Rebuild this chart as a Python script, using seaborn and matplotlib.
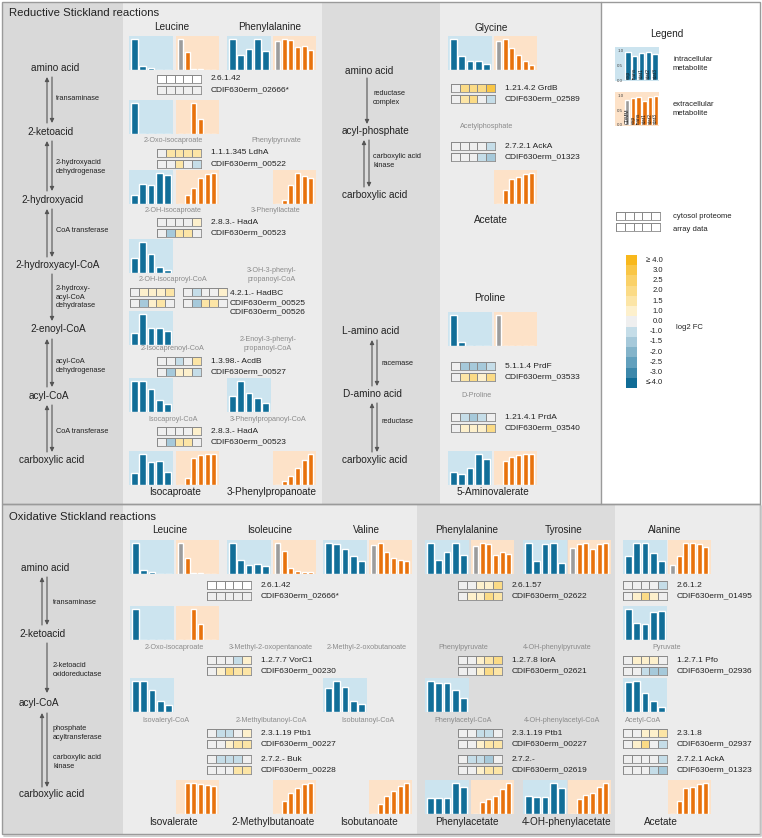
import numpy as np
import matplotlib
matplotlib.use("Agg")
import matplotlib.pyplot as plt
import seaborn as sns
from matplotlib.colors import ListedColormap, BoundaryNorm
from matplotlib.patches import Rectangle

W, H = 762, 838
nan = np.nan

# growth phases shown in every mini bar chart
phases = ["exp", "trans", "stat1", "stat2", "stat3"]
ext_phases = ["CDMM"] + phases

# log2 FC colour key (top to bottom)
fc_levels = [4.0, 3.0, 2.5, 2.0, 1.5, 1.0, 0.0, -1.0, -1.5, -2.0, -2.5, -3.0, -4.0]
fc_labels = ["\u2265 4.0", "3.0", "2.5", "2.0", "1.5", "1.0", "0.0",
             "-1.0", "-1.5", "-2.0", "-2.5", "-3.0", "\u2264-4.0"]
fc_colors = ["#f8b81c", "#f9c646", "#fad168", "#fbdb86", "#fce5a6", "#fdf0cc", "#efefef",
             "#c5dde8", "#a6c9da", "#84b4ca", "#62a0bd", "#3d88ab", "#106c96"]

# ---- reductive Stickland: relative metabolite levels ----
red_leu_in = [1.0, 0.14, 0.06, 0, 0]
red_leu_ex = [1.0, 0.58, 0.02, 0.02, 0, 0]
red_phe_in = [1.0, 0.47, 0.68, 1.0, 0.6]
red_phe_ex = [0.92, 1.0, 0.95, 0.72, 0.77, 0.65]
red_oxoisocaproate_in = [1.0, 0, 0, 0, 0]
red_oxoisocaproate_ex = [0, 0, 1.0, 0.48, 0, 0]
ohisocaproate_in = [0.3, 0.65, 0.6, 1.0, 0.92]
ohisocaproate_ex = [0, 0.28, 0.52, 0.82, 0.95, 1.0]
phenyllactate_ex = [0, 0.12, 0.6, 1.0, 0.88, 0.82]
ohisocaproyl_coa_in = [0.48, 1.0, 0.6, 0.2, 0.09]
isocaprenoyl_coa_in = [0.38, 1.0, 0.55, 0.55, 0.44]
isocaproyl_coa_in = [0.98, 1.0, 0.72, 0.38, 0.25]
phenylpropanoyl_coa_in = [0.52, 1.0, 0.6, 0.43, 0.3]
isocaproate_in = [0.38, 1.0, 0.74, 0.76, 0.42]
isocaproate_ex = [0, 0.22, 0.85, 0.95, 0.98, 1.0]
phenylpropanoate_ex = [0, 0.12, 0.28, 0.55, 0.8, 1.0]
gly_in = [1.0, 0.46, 0.3, 0.3, 0.18]
gly_ex = [0.92, 1.0, 0.7, 0.47, 0.3, 0.17]
red_acetate_ex = [0, 0.43, 0.8, 0.85, 0.95, 1.0]
pro_in = [1.0, 0.13, 0, 0, 0]
pro_ex = [1.0, 0, 0, 0, 0, 0]
aminovalerate_in = [0.4, 0.36, 0.54, 1.0, 0.84]
aminovalerate_ex = [0, 0.75, 0.9, 0.94, 0.97, 1.0]

# ---- oxidative Stickland ----
ox_leu_in = [1.0, 0.14, 0.06, 0, 0]
ox_leu_ex = [1.0, 0.5, 0.02, 0.02, 0, 0]
ile_in = [1.0, 0.46, 0.3, 0.33, 0.26]
ile_ex = [1.0, 0.74, 0.2, 0.1, 0.05, 0.05]
val_in = [1.0, 0.95, 0.8, 0.56, 0.42]
val_ex = [0.92, 1.0, 0.7, 0.52, 0.45, 0.4]
ox_oxoisocaproate_in = [1.0, 0, 0, 0, 0]
ox_oxoisocaproate_ex = [0, 0, 1.0, 0.5, 0, 0]
isovaleryl_coa_in = [1.0, 0.97, 0.7, 0.35, 0.22]
isobutanoyl_coa_in = [0.75, 1.0, 0.8, 0.35, 0.24]
isovalerate_ex = [0, 1.0, 0.97, 0.94, 0.92, 0.9]
methylbutanoate_ex = [0, 0.42, 0.67, 0.82, 0.95, 1.0]
isobutanoate_ex = [0, 0.33, 0.57, 0.73, 0.88, 1.0]
ox_phe_in = [1.0, 0.46, 0.69, 1.0, 0.6]
ox_phe_ex = [0.9, 1.0, 0.95, 0.6, 0.7, 0.64]
tyr_in = [1.0, 0.42, 0.96, 1.0, 0.34]
tyr_ex = [0.84, 0.94, 0.97, 0.8, 0.94, 1.0]
ala_in = [0.58, 1.0, 1.0, 0.66, 0.42]
ala_ex = [0.3, 0.56, 1.0, 1.0, 0.95, 0.86]
pyruvate_in = [1.0, 0.54, 0.5, 0.9, 0.93]
phenylacetyl_coa_in = [1.0, 0.93, 0.92, 0.7, 0.46]
acetyl_coa_in = [0.94, 1.0, 0.6, 0.34, 0.17]
phenylacetate_in = [0.52, 0.5, 0.5, 1.0, 0.86]
phenylacetate_ex = [0, 0.37, 0.47, 0.58, 0.8, 1.0]
ohphenylacetate_in = [0.58, 0.55, 0.55, 1.0, 0.84]
ohphenylacetate_ex = [0, 0.47, 0.6, 0.66, 0.86, 1.0]
ox_acetate_ex = [0, 0.42, 0.82, 0.87, 0.95, 1.0]

legend_in = [0.95, 0.8, 0.92, 0.95, 0.88]
legend_ex = [0.85, 0.92, 0.95, 0.8, 0.95, 0.98]

# ---- enzyme log2 FC (row 1 = cytosol proteome, row 2 = array data) ----
fc_02666 = [[nan] * 5, [0, 0, 0, 0, 0]]
fc_ldha = [[0, 1.5, 1.5, 1.5, 1.5], [0, 0, 1.5, 0, -1.0]]
fc_hada = [[0, 0, 0, 0, 1.0], [0, -1.5, 1.5, 1.5, 0]]
fc_hadbc_a = [[0, 1.0, 1.0, 1.0, 1.5], [0, -1.5, 1.0, 1.5, 0]]
fc_hadbc_b = [[0, -1.0, 0, 0, 1.0], [0, -1.5, 1.5, 1.5, 0]]
fc_acdb = [[0, 0, -1.0, 0, 1.5], [0, -1.5, 1.0, 1.0, -1.0]]
fc_grdb = [[0, 2.0, 2.0, 2.0, 3.0], [0, 1.5, 2.0, 0, -1.0]]
fc_acka = [[0, 0, 0, 0, -1.0], [0, 0, 0, -1.0, -1.5]]
fc_prdf = [[0, -1.5, -1.5, -1.5, -1.0], [0, 1.5, 2.0, 1.0, 2.0]]
fc_prda = [[0, -1.0, -1.5, -1.0, 0], [0, 1.0, 1.0, 1.0, 2.0]]
fc_vorc1 = [[0, 0, 0, -1.0, 1.0], [0, 1.0, 2.0, 1.5, 1.5]]
fc_ptb1_a = [[0, -1.0, -1.0, 0, 1.0], [0, 0, 1.0, 1.5, 1.5]]
fc_buk = [[0, -1.0, -1.0, -1.0, 0], [0, 0, 0, 1.5, 1.5]]
fc_02622 = [[0, 0, 1.0, 1.0, 2.0], [0, 1.0, 1.0, 2.0, 1.5]]
fc_01495 = [[0, 0, 0, 0, -1.0], [0, 1.0, 2.0, 1.0, 0]]
fc_iora = [[0, 0, 1.0, 1.5, 2.0], [0, 0, 1.0, 2.0, 1.5]]
fc_pfo = [[0, 1.0, 1.0, 1.0, 0], [0, 0, -1.0, -1.5, -1.5]]
fc_ptb1_b = [[0, 0, -1.0, -1.0, 0], [0, 0, 1.0, 1.5, 1.5]]
fc_02937 = [[0, 0, 1.0, 1.0, 1.5], [0, 1.0, 2.0, 0, -1.0]]
fc_02619 = [[0, -1.0, -1.0, -1.5, 0], [0, 0, 1.0, 1.5, 1.5]]
fc_blank = [[nan] * 5, [nan] * 5]

BLUE, ORANGE, GREY = "#116e98", "#e8720c", "#9c9c9c"
BOX_IN, BOX_EX = "#cce4ef", "#fde2c8"
DARK, LIGHT = "#d9d9d9", "#ececec"

fc_cmap = ListedColormap(fc_colors[::-1])
fc_norm = BoundaryNorm([-10, -3.5, -2.75, -2.25, -1.75, -1.25, -0.5, 0.5,
                        1.25, 1.75, 2.25, 2.75, 3.5, 10], fc_cmap.N)

sns.set_style("white")
plt.rcParams["font.family"] = ["Liberation Sans", "DejaVu Sans"]

fig = plt.figure(figsize=(W / 100, H / 100), dpi=100)
bg = fig.add_axes([0, 0, 1, 1])
bg.set_xlim(0, W)
bg.set_ylim(H, 0)
bg.axis("off")


def px(x, y, w, h):
    return [x / W, 1 - (y + h) / H, w / W, h / H]


def rect(x0, y0, x1, y1, color, edge=None):
    bg.add_patch(Rectangle((x0, y0), x1 - x0, y1 - y0, facecolor=color,
                           edgecolor=edge if edge else "none", lw=1 if edge else 0))


def mini(x, y, vals, ext=False):
    w = 43 if ext else 44
    rect(x, y, x + w, y + 34, BOX_EX if ext else BOX_IN)
    ax = fig.add_axes(px(x, y, w, 34))
    labels = ext_phases if ext else phases
    cols = ([GREY] + [ORANGE] * 5) if ext else [BLUE] * 5
    sns.barplot(x=labels, y=vals, hue=labels, palette=cols, legend=False,
                saturation=1, width=0.75 if ext else 0.78, ax=ax)
    if ext:
        ax.set_xlim(-0.7, 5.8)
    else:
        ax.set_xlim(-0.65, 4.65)
    ax.set_ylim(0, 1.08)
    ax.axis("off")


def strip(x, y, rows):
    for i, row in enumerate(rows):
        ax = fig.add_axes(px(x, y + i * 11, 44, 8))
        sns.heatmap(np.array([row], dtype=float), ax=ax, cmap=fc_cmap, norm=fc_norm,
                    vmin=-4, vmax=4, cbar=False, linewidths=0.5, linecolor="#8a8a8a",
                    xticklabels=False, yticklabels=False)
        ax.set_facecolor("white")
        for s in ax.spines.values():
            s.set_visible(True)
            s.set_color("#8a8a8a")
            s.set_linewidth(0.6)


def enzyme(x, y, rows, lines):
    strip(x, y, rows)
    for i, t in enumerate(lines):
        bg.text(x + 54, y + 4 + i * 10.5, t, fontsize=6, va="center", color="#222")


def arrow(x, y0, y1):
    bg.annotate("", xy=(x, y1), xytext=(x, y0),
                arrowprops=dict(arrowstyle="-|>", color="#555", lw=0.8,
                                mutation_scale=6, shrinkA=0, shrinkB=0))


def both(x, y0, y1):
    arrow(x - 2.5, y1, y0)
    arrow(x + 2.5, y0, y1)


def txt(x, y, s, size=7.2, color="#222", ha="center", **kw):
    bg.text(x, y, s, fontsize=size, color=color, ha=ha, va="center", linespacing=1.3, **kw)


# ---- backgrounds ----
rect(2, 2, 123, 504, DARK)
rect(123, 2, 322, 504, LIGHT)
rect(322, 2, 440, 504, "#dcdcdc")
rect(440, 2, 601, 504, LIGHT)
rect(601, 2, 760, 504, "white")
rect(2, 504, 123, 834, DARK)
rect(123, 504, 417, 834, LIGHT)
rect(417, 504, 615, 834, "#dcdcdc")
rect(615, 504, 760, 834, LIGHT)
bg.add_patch(Rectangle((2, 2), 758, 502, fill=False, edgecolor="#9a9a9a", lw=1))
bg.add_patch(Rectangle((2, 504), 758, 330, fill=False, edgecolor="#9a9a9a", lw=1))
bg.plot([601, 601], [2, 504], color="#9a9a9a", lw=1)
bg.plot([4, 761, 761], [835.5, 835.5, 506], color="#c8c8c8", lw=1.2)

# ---- reductive section ----
txt(9, 13, "Reductive Stickland reactions", size=8.2, ha="left")
for x, y, s in [(55, 68, "amino acid"), (50, 132, "2-ketoacid"), (52, 200, "2-hydroxyacid"),
                (58, 265, "2-hydroxyacyl-CoA"), (58, 329, "2-enoyl-CoA"),
                (49, 396, "acyl-CoA"), (52, 460, "carboxylic acid")]:
    txt(x, y, s)
for y, s in [(99, "transaminase"), (167, "2-hydroxyacid\ndehydrogenase"),
             (230, "CoA transferase"), (297, "2-hydroxy-\nacyl-CoA\ndehydratase"),
             (366, "acyl-CoA\ndehydrogenase"), (431, "CoA transferase")]:
    txt(56, y, s, size=5.3, ha="left")
both(49.5, 77, 123)
both(49.5, 141, 191)
both(49.5, 209, 257)
arrow(52, 274, 321)
both(49.5, 339, 387)
both(49.5, 405, 452)

for x, y, s in [(172, 27, "Leucine"), (270, 27, "Phenylalanine"), (491, 28, "Glycine"),
                (490, 298, "Proline")]:
    txt(x, y, s)
for x, y, s in [(173, 141, "2-Oxo-isocaproate"), (276, 141, "Phenylpyruvate"),
                (173, 210, "2-OH-isocaproate"), (276, 210, "3-Phenyllactate"),
                (173, 279, "2-OH-isocaproyl-CoA"), (272, 275, "3-OH-3-phenyl-\npropanoyl-CoA"),
                (173, 348, "2-Isocaprenoyl-CoA"), (268, 344, "2-Enoyl-3-phenyl-\npropanoyl-CoA"),
                (173, 419, "Isocaproyl-CoA"), (268, 419, "3-Phenylpropanoyl-CoA"),
                (487, 126, "Acetylphosphate"), (477, 395, "D-Proline")]:
    txt(x, y, s, size=5.2, color="#8c8c8c")
for x, y, s in [(175, 492, "Isocaproate"), (272, 492, "3-Phenylpropanoate"),
                (491, 220, "Acetate"), (493, 492, "5-Aminovalerate")]:
    txt(x, y, s)

for x, y, s in [(369, 71, "amino acid"), (376, 131, "acyl-phosphate"),
                (375, 195, "carboxylic acid"), (371, 331, "L-amino acid"),
                (372, 394, "D-amino acid"), (375, 460, "carboxylic acid")]:
    txt(x, y, s)
for x, y, s in [(373, 98, "reductase\ncomplex"), (373, 161, "carboxylic acid\nkinase"),
                (382, 363, "racemase"), (382, 421, "reductase")]:
    txt(x, y, s, size=5.3, ha="left")
arrow(367, 78, 124)
both(366.5, 140, 187)
both(374.5, 340, 386)
both(374.5, 403, 452)

mini(129, 36, red_leu_in); mini(176, 36, red_leu_ex, True)
mini(227, 36, red_phe_in); mini(273, 36, red_phe_ex, True)
mini(129, 100, red_oxoisocaproate_in); mini(176, 100, red_oxoisocaproate_ex, True)
mini(129, 170, ohisocaproate_in); mini(176, 170, ohisocaproate_ex, True)
mini(273, 170, phenyllactate_ex, True)
mini(129, 239, ohisocaproyl_coa_in)
mini(129, 311, isocaprenoyl_coa_in)
mini(129, 378, isocaproyl_coa_in); mini(227, 378, phenylpropanoyl_coa_in)
mini(129, 451, isocaproate_in); mini(176, 451, isocaproate_ex, True)
mini(273, 451, phenylpropanoate_ex, True)
mini(448, 36, gly_in); mini(494, 36, gly_ex, True)
mini(494, 170, red_acetate_ex, True)
mini(448, 312, pro_in); mini(494, 312, pro_ex, True)
mini(448, 451, aminovalerate_in); mini(494, 451, aminovalerate_ex, True)

enzyme(157, 75, fc_02666, ["2.6.1.42", "CDIF630erm_02666*"])
enzyme(157, 149, fc_ldha, ["1.1.1.345 LdhA", "CDIF630erm_00522"])
enzyme(157, 218, fc_hada, ["2.8.3.- HadA", "CDIF630erm_00523"])
strip(130, 288, fc_hadbc_a)
strip(183, 288, fc_hadbc_b)
for i, s in enumerate(["4.2.1.- HadBC", "CDIF630erm_00525", "CDIF630erm_00526"]):
    bg.text(230, 293 + i * 9.5, s, fontsize=6, va="center", color="#222")
enzyme(157, 357, fc_acdb, ["1.3.98.- AcdB", "CDIF630erm_00527"])
enzyme(157, 427, fc_hada, ["2.8.3.- HadA", "CDIF630erm_00523"])
enzyme(451, 84, fc_grdb, ["1.21.4.2 GrdB", "CDIF630erm_02589"])
enzyme(451, 142, fc_acka, ["2.7.2.1 AckA", "CDIF630erm_01323"])
enzyme(451, 362, fc_prdf, ["5.1.1.4 PrdF", "CDIF630erm_03533"])
enzyme(451, 413, fc_prda, ["1.21.4.1 PrdA", "CDIF630erm_03540"])

# ---- legend ----
txt(667, 34, "Legend")
for yy, vals, ext, label in [(47, legend_in, False, "intracellular\nmetabolite"),
                             (92, legend_ex, True, "extracellular\nmetabolite")]:
    rect(615, yy, 659, yy + 34, BOX_EX if ext else BOX_IN)
    ax = fig.add_axes(px(624, yy + 2, 35, 31))
    labels = ext_phases if ext else phases
    cols = ([GREY] + [ORANGE] * 5) if ext else [BLUE] * 5
    sns.barplot(x=labels, y=vals, hue=labels, palette=cols, legend=False,
                saturation=1, width=0.8, ax=ax)
    ax.set_xlim(-0.55, len(vals) - 0.45)
    ax.set_ylim(0, 1.05)
    ax.patch.set_visible(False)
    sns.despine(ax=ax, left=True, bottom=True)
    ax.set_xticks([])
    ax.set_yticks([0, 0.5, 1.0], ["0.0", "0.5", "1.0"], fontsize=3.2, color="#444")
    ax.tick_params(axis="y", length=0, pad=0.5)
    ax.set_xlabel("")
    ax.set_ylabel("")
    for i, lab in enumerate(labels):
        ax.text(i, 0.03, lab, rotation=90, fontsize=3.6, ha="center", va="bottom", color="#1a1a1a")
    txt(673, yy + 17, label, size=5.5, ha="left")

strip(616, 212, fc_blank)
txt(673, 216, "cytosol proteome", size=5.5, ha="left")
txt(673, 229, "array data", size=5.5, ha="left")

cax = fig.add_axes(px(626, 255, 11, 133))
sns.heatmap(np.array(fc_levels).reshape(-1, 1), ax=cax, cmap=fc_cmap, norm=fc_norm,
            vmin=-4, vmax=4, cbar=False, xticklabels=False, yticklabels=False)
step = 133 / len(fc_levels)
for i, s in enumerate(fc_labels):
    txt(663, 255 + step * (i + 0.5), s, size=5.5, ha="right")
txt(676, 327, "log2 FC", size=5.5, ha="left")

# ---- oxidative section ----
txt(9, 517, "Oxidative Stickland reactions", size=8.2, ha="left")
for x, y, s in [(45, 568, "amino acid"), (43, 634, "2-ketoacid"), (39, 703, "acyl-CoA"),
                (52, 794, "carboxylic acid")]:
    txt(x, y, s)
for y, s in [(602, "transaminase"), (670, "2-ketoacid\noxidoreductase"),
             (733, "phosphate\nacyltransferase"), (762, "carboxylic acid\nkinase")]:
    txt(53, y, s, size=5.3, ha="left")
both(44.5, 577, 625)
arrow(47, 643, 693)
both(44.5, 713, 787)

for x, s in [(170, "Leucine"), (270, "Isoleucine"), (366, "Valine"), (467, "Phenylalanine"),
             (564, "Tyrosine"), (665, "Alanine")]:
    txt(x, 530, s)
for x, s in [(174, "2-Oxo-isocaproate"), (271, "3-Methyl-2-oxopentanoate"),
             (367, "2-Methyl-2-oxobutanoate"), (463, "Phenylpyruvate"),
             (557, "4-OH-phenylpyruvate"), (667, "Pyruvate")]:
    txt(x, 647, s, size=5.2, color="#8c8c8c")
for x, s in [(166, "Isovaleryl-CoA"), (271, "2-Methylbutanoyl-CoA"), (368, "Isobutanoyl-CoA"),
             (463, "Phenylacetyl-CoA"), (562, "4-OH-phenylacetyl-CoA"), (643, "Acetyl-CoA")]:
    txt(x, 720, s, size=5.2, color="#8c8c8c")
for x, s in [(173, "Isovalerate"), (273, "2-Methylbutanoate"), (369, "Isobutanoate"),
             (467, "Phenylacetate"), (567, "4-OH-phenylacetate"), (661, "Acetate")]:
    txt(x, 822, s)

mini(130, 540, ox_leu_in); mini(176, 540, ox_leu_ex, True)
mini(227, 540, ile_in); mini(273, 540, ile_ex, True)
mini(323, 540, val_in); mini(369, 540, val_ex, True)
mini(425, 540, ox_phe_in); mini(471, 540, ox_phe_ex, True)
mini(523, 540, tyr_in); mini(568, 540, tyr_ex, True)
mini(623, 540, ala_in); mini(668, 540, ala_ex, True)
mini(130, 606, ox_oxoisocaproate_in); mini(176, 606, ox_oxoisocaproate_ex, True)
mini(623, 606, pyruvate_in)
mini(130, 678, isovaleryl_coa_in); mini(323, 678, isobutanoyl_coa_in)
mini(425, 678, phenylacetyl_coa_in); mini(623, 678, acetyl_coa_in)
mini(176, 780, isovalerate_ex, True); mini(273, 780, methylbutanoate_ex, True)
mini(369, 780, isobutanoate_ex, True)
mini(425, 780, phenylacetate_in); mini(471, 780, phenylacetate_ex, True)
mini(523, 780, ohphenylacetate_in); mini(568, 780, ohphenylacetate_ex, True)
mini(668, 780, ox_acetate_ex, True)

enzyme(207, 581, fc_02666, ["2.6.1.42", "CDIF630erm_02666*"])
enzyme(207, 656, fc_vorc1, ["1.2.7.7 VorC1", "CDIF630erm_00230"])
enzyme(207, 729, fc_ptb1_a, ["2.3.1.19 Ptb1", "CDIF630erm_00227"])
enzyme(207, 755, fc_buk, ["2.7.2.- Buk", "CDIF630erm_00228"])
enzyme(458, 581, fc_02622, ["2.6.1.57", "CDIF630erm_02622"])
enzyme(458, 656, fc_iora, ["1.2.7.8 IorA", "CDIF630erm_02621"])
enzyme(458, 729, fc_ptb1_b, ["2.3.1.19 Ptb1", "CDIF630erm_00227"])
enzyme(458, 755, fc_02619, ["2.7.2.-", "CDIF630erm_02619"])
enzyme(623, 581, fc_01495, ["2.6.1.2", "CDIF630erm_01495"])
enzyme(623, 656, fc_pfo, ["1.2.7.1 Pfo", "CDIF630erm_02936"])
enzyme(623, 729, fc_02937, ["2.3.1.8", "CDIF630erm_02937"])
enzyme(623, 755, fc_acka, ["2.7.2.1 AckA", "CDIF630erm_01323"])

fig.savefig("out.png", dpi=100)
